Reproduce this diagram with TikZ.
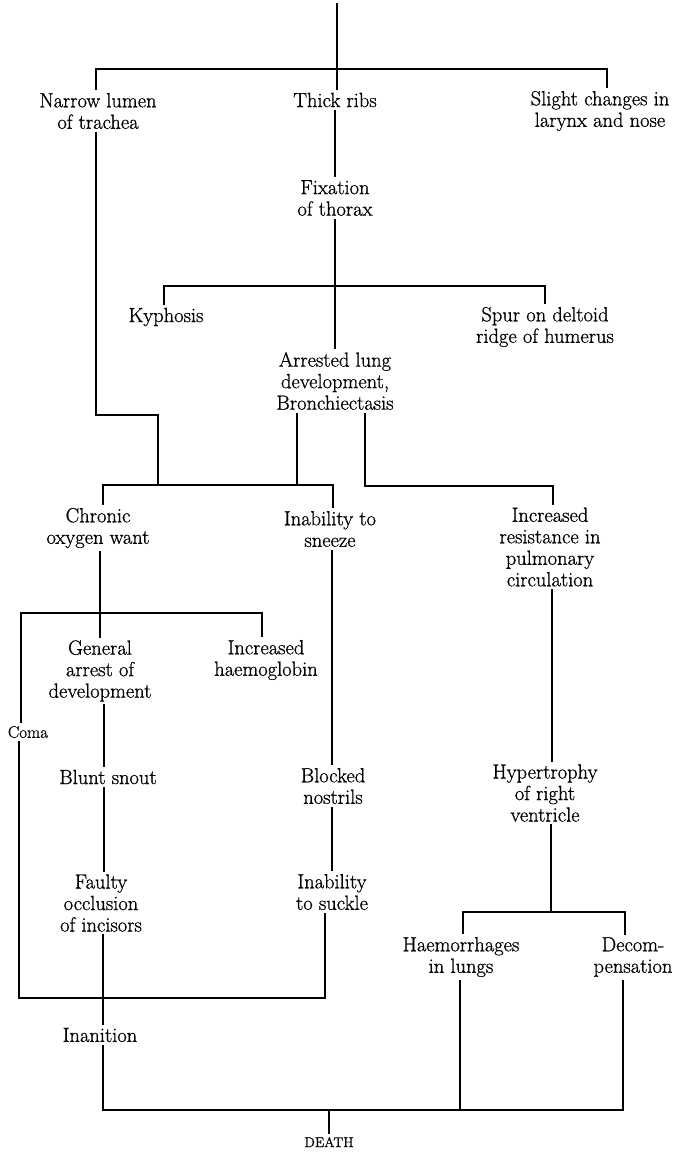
\documentclass[tikz,border=0pt]{standalone}
\usepackage{tikz}
\usepackage{fontspec}
% slightly heavier roman for the labels, like the printed plate
\newfontfamily\inkfont{Latin Modern Roman}[FakeBold=0.8]

\tikzset{
  link/.style={line width=2.5pt, line cap=rect, line join=miter},
  lbl/.style={align=center, inner sep=4pt, outer sep=0pt,
    font=\inkfont\fontsize{20.5}{21.5}\selectfont},
  small/.style={align=center, inner sep=4pt, outer sep=0pt,
    font=\inkfont\fontsize{17}{19}\selectfont},
  capslbl/.style={align=center, inner sep=4pt, outer sep=0pt,
    font=\inkfont\fontsize{14}{16}\selectfont},
}

\begin{document}
\begin{tikzpicture}[x=1pt, y=-1pt]
\useasboundingbox (0,0) rectangle (676,1154);

% ---- text nodes ----
\node[lbl] (narrow)   at (98,111)  {Narrow lumen\\of trachea};
\node[lbl] (thick)    at (335,100) {Thick ribs};
\node[lbl] (slight)   at (600,111) {Slight changes in\\larynx and nose};
\node[lbl] (fixation) at (335,198) {Fixation\\of thorax};
\node[lbl] (kyph)     at (166,317) {Kyphosis};
\node[lbl] (spur)     at (545,327) {Spur on deltoid\\ridge of humerus};
\node[lbl] (arrested) at (335,381) {Arrested lung\\development,\\Bronchiectasis};
\node[lbl] (chronic)  at (98,528)  {Chronic\\oxygen want};
\node[lbl] (sneeze)   at (330,529) {Inability to\\sneeze};
\node[lbl] (resist)   at (550,547) {Increased\\resistance in\\pulmonary\\circulation};
\node[lbl] (general)  at (100,671) {General\\arrest of\\development};
\node[lbl] (haemo)    at (266,660) {Increased\\haemoglobin};
\node[small] (coma)   at (28,732)  {Coma};
\node[lbl] (blunt)    at (108,777) {Blunt snout};
\node[lbl] (blocked)  at (333,786) {Blocked\\nostrils};
\node[lbl] (hyper)    at (545,793) {Hypertrophy\\of right\\ventricle};
\node[lbl] (faulty)   at (101,903) {Faulty\\occlusion\\of incisors};
\node[lbl] (suckle)   at (332,892) {Inability\\to suckle};
\node[lbl] (haemorr)  at (461,957) {Haemorrhages\\in lungs};
\node[lbl] (decomp)   at (633,957) {Decom-\\pensation};
\node[lbl] (inanition) at (100,1035) {Inanition};
\node[capslbl] (death) at (329,1142) {DEATH};

% ---- junction points ----
\coordinate (top)  at (337,4);
\coordinate (b1L)  at (96,69);
\coordinate (b1R)  at (607,69);
\coordinate (tr)   at (96,415);
\coordinate (trE)  at (158,415);
\coordinate (b2L)  at (164,286);
\coordinate (b2R)  at (545,286);
\coordinate (b3L)  at (103,485);
\coordinate (b3R)  at (333,485);
\coordinate (b3A)  at (158,485);
\coordinate (b3B)  at (297,485);
\coordinate (rb)   at (365,486);
\coordinate (rbR)  at (553,486);
\coordinate (b4L)  at (21,613);
\coordinate (b4R)  at (262,613);
\coordinate (b4C)  at (100,613);
\coordinate (b5L)  at (19,998);
\coordinate (b5R)  at (325,998);
\coordinate (colL) at (104,700);
\coordinate (colS) at (332,700);
\coordinate (colR) at (552,700);
\coordinate (b6L)  at (463,912);
\coordinate (b6R)  at (625,912);
\coordinate (b6C)  at (551,912);
\coordinate (b7L)  at (103,1110);
\coordinate (b7H)  at (460,1110);
\coordinate (b7R)  at (623,1110);
\coordinate (b7C)  at (329,1110);

% ---- connectors ----
\draw[link] (top) -- (thick.north -| top);
\draw[link] (narrow.north -| b1L) -- (b1L) -- (b1R) -- (slight.north -| b1R);
\draw[link] (thick.south) -- (fixation.north);
\draw[link] (fixation.south) -- (arrested.north);
\draw[link] (kyph.north -| b2L) -- (b2L) -- (b2R) -- (spur.north -| b2R);
\draw[link] (narrow.south -| b1L) -- (tr) -- (trE) -- (b3A);
\draw[link] (arrested.south -| b3B) -- (b3B);
\draw[link] (arrested.south -| rb) -- (rb) -- (rbR) -- (resist.north -| rbR);
\draw[link] (chronic.north -| b3L) -- (b3L) -- (b3R) -- (sneeze.north -| b3R);
\draw[link] (chronic.south -| b4C) -- (b4C);
\draw[link] (coma.north -| b4L) -- (b4L) -- (b4R) -- (haemo.north -| b4R);
\draw[link] (b4C) -- (general.north -| b4C);
\draw[link] (coma.south -| b5L) -- (b5L) -- (b5R) -- (suckle.south -| b5R);
\draw[link] (general.south -| colL) -- (blunt.north -| colL);
\draw[link] (blunt.south -| colL) -- (faulty.north -| colL);
\draw[link] (faulty.south -| b7L) -- (inanition.north -| b7L);
\draw[link] (inanition.south -| b7L) -- (b7L) -- (b7R) -- (decomp.south -| b7R);
\draw[link] (haemorr.south -| b7H) -- (b7H);
\draw[link] (b7C) -- (death.north -| b7C);
\draw[link] (sneeze.south -| colS) -- (blocked.north -| colS);
\draw[link] (blocked.south -| colS) -- (suckle.north -| colS);
\draw[link] (resist.south -| colR) -- (hyper.north -| colR);
\draw[link] (hyper.south -| b6C) -- (b6C);
\draw[link] (haemorr.north -| b6L) -- (b6L) -- (b6R) -- (decomp.north -| b6R);
\end{tikzpicture}
\end{document}
